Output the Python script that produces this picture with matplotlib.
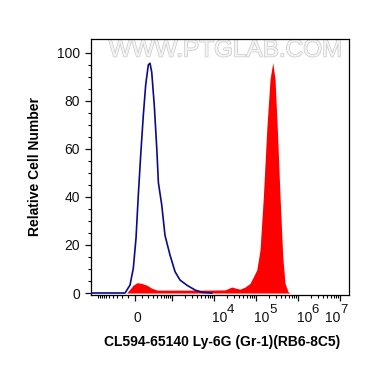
import numpy as np
import matplotlib
matplotlib.use('Agg')
import matplotlib.pyplot as plt
import matplotlib.patheffects as pe

plt.rcParams['font.family'] = ['Liberation Sans', 'DejaVu Sans']

# ---- data (fluorescence intensity vs relative cell number) ----
control_x = [-1455, -400, -151, -73, -24.5, 14.4, 47.9, 83.5, 123.8, 163, 209, 241,
             276, 333, 394, 437, 538, 655, 876, 1163, 1538, 2230, 3522, 5090, 8820]
control_y = [0, 0, 0, 3.3, 10.3, 22.8, 40.8, 57.5, 74, 86.7, 95, 95.7,
             92, 78, 60, 46, 36.7, 24, 15.8, 8.9, 5.4, 3.3, 1.25, 0.3, 0]

stained_x = [-124, -24.5, 29, 98.8, 180, 276, 394, 538, 2000, 8000, 18280, 26360,
             33200, 41560, 54700, 71800, 103900, 124400, 149100, 179600,
             215100, 249600, 283000, 321400, 372700, 432100, 490200, 577800, 645000]
stained_y = [0, 3.3, 4.3, 4.0, 3.3, 2.0, 1.25, 1.2, 1.2, 1.2, 1.3, 2.5,
             2.0, 1.6, 2.5, 4, 9.6, 18, 40, 68,
             89, 96, 89, 68, 40, 15, 4, 0.5, 0]

x_major = [0, 1e3, 1e4, 1e5, 1e6, 1e7]
x_label_base = ['0', '', '10', '10', '10', '10']
x_label_exp = ['', '', '4', '5', '6', '7']
y_major = [0, 20, 40, 60, 80, 100]

xlabel = 'CL594-65140 Ly-6G (Gr-1)(RB6-8C5)'
ylabel = 'Relative Cell Number'
watermark = 'WWW.PTGLAB.COM'

# ---- biexponential-like (asinh) display scale ----
A = 263.0
def fwd(x):
    return np.arcsinh(np.asarray(x, dtype=float) / A)
def inv(y):
    return A * np.sinh(np.asarray(y, dtype=float))

fig = plt.figure(figsize=(3.70, 3.67), dpi=100)
ax = fig.add_axes([91/370, 1-295/367, 258/370, 256/367])
ax.set_xscale('function', functions=(fwd, inv))
ax.set_xlim(-1455, 1.63e7)
ax.set_ylim(-0.83, 105.8)

ax.fill_between(stained_x, 0, stained_y, color='#ff0000', linewidth=0, zorder=2)
ax.plot(control_x, control_y, color='#0a0a8a', linewidth=1.2, zorder=3)

# ticks
minor = []
for d in [100, 1000, 10000, 100000, 1000000]:
    for m in range(1, 10):
        v = m * d
        if v not in x_major:
            minor.append(v)
neg_minor = [-m * 100 for m in range(1, 11)]
ax.set_xticks(x_major)
ax.set_xticklabels([''] * len(x_major))
ax.set_xticks(neg_minor + minor, minor=True)
ax.set_yticks(y_major)
ax.set_yticks(np.arange(0, 105, 5), minor=True)

ax.tick_params(axis='both', which='major', direction='out', length=4.3, width=0.9,
               labelsize=10, colors='#111111')
ax.tick_params(axis='both', which='minor', direction='out', length=2.3, width=0.8)
for s in ax.spines.values():
    s.set_linewidth(0.9)

# x tick labels with full-size superscripts
base_dx = [2.5, 0, -2.5, -2, -1.3, -15]
for v, b, e, dx in zip(x_major, x_label_base, x_label_exp, base_dx):
    if not b:
        continue
    if not e:
        ax.annotate(b, xy=(v, 0), xycoords=('data', 'axes fraction'),
                    xytext=(dx, -27), textcoords='offset pixels',
                    ha='center', va='baseline', fontsize=10, color='#111111')
    else:
        ax.annotate(b, xy=(v, 0), xycoords=('data', 'axes fraction'),
                    xytext=(dx, -27), textcoords='offset pixels',
                    ha='left', va='baseline', fontsize=10, color='#111111')
        ax.annotate(e, xy=(v, 0), xycoords=('data', 'axes fraction'),
                    xytext=(dx + 15, -18), textcoords='offset pixels',
                    ha='left', va='baseline', fontsize=9.5, color='#111111')

ax.text(0.52, 0.955, watermark, transform=ax.transAxes, ha='center', va='center',
        fontsize=17.5, color='#f4f4f4', zorder=1,
        path_effects=[pe.withStroke(linewidth=1.0, foreground='#c9c9c9')])

fig.text(222.5/370, 1-342/367, xlabel, ha='center', va='center',
         fontsize=10, fontweight='bold')
fig.text(35/370, 1-166.5/367, ylabel, ha='center', va='center', rotation=90,
         fontsize=10, fontweight='bold')

fig.savefig('out.png', dpi=100)
